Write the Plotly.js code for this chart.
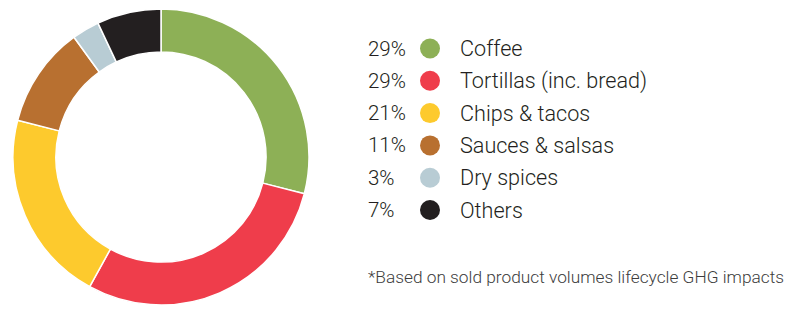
<!DOCTYPE html>
<html>
<head>
<meta charset="utf-8">
<script src="https://cdn.plot.ly/plotly-3.0.1.min.js"></script>
<style>html,body{margin:0;padding:0;background:#fff;}#chart{width:787px;height:309px;}</style>
</head>
<body>
<div id="chart"></div>
<script>
const categories = ["Coffee", "Tortillas (inc. bread)", "Chips & tacos", "Sauces & salsas", "Dry spices", "Others"];
const shares = [29, 29, 21, 11, 3, 7];
const percentLabels = ["29%", "29%", "21%", "11%", "3%", "7%"];
const colors = ["#8db056", "#ef3d4b", "#fdca2d", "#b87030", "#b8ccd4", "#231f20"];
const footnote = "*Based on sold product volumes lifecycle GHG impacts";

const W = 787, H = 309;
const rowTop = 48.5, rowStep = 32.3;
const rowY = categories.map((c, i) => rowTop + i * rowStep);
const textColor = "#231f20";

const pie = {
  type: "pie",
  values: shares,
  labels: categories,
  marker: {colors: colors, line: {color: "#ffffff", width: 1.5}},
  hole: 0.71,
  sort: false,
  direction: "clockwise",
  rotation: 0,
  textinfo: "none",
  hoverinfo: "label+percent",
  showlegend: false,
  domain: {x: [13 / W, 309 / W], y: [(H - 305) / H, (H - 9) / H]}
};

const dots = {
  type: "scatter",
  mode: "markers",
  x: categories.map(() => 430),
  y: rowY,
  marker: {color: colors, size: 20, line: {width: 0}},
  hoverinfo: "skip",
  showlegend: false,
  xaxis: "x",
  yaxis: "y"
};

const annotations = [];
categories.forEach((c, i) => {
  annotations.push({x: 366, y: rowY[i], xref: "x", yref: "y", text: percentLabels[i], showarrow: false,
    xanchor: "left", yanchor: "middle", font: {family: "Roboto", size: 20.5, weight: 300, color: textColor}});
  annotations.push({x: 458, y: rowY[i], xref: "x", yref: "y", text: c, showarrow: false,
    xanchor: "left", yanchor: "middle", font: {family: "Roboto", size: 21.6, weight: 300, color: textColor}});
});
annotations.push({x: 366, y: 277, xref: "x", yref: "y", text: footnote, showarrow: false,
  xanchor: "left", yanchor: "middle", font: {family: "Roboto", size: 17.3, weight: 300, color: "#3c3c3c"}});

const layout = {
  width: W, height: H,
  margin: {l: 0, r: 0, t: 0, b: 0, pad: 0},
  paper_bgcolor: "#ffffff", plot_bgcolor: "rgba(0,0,0,0)",
  xaxis: {range: [0, W], visible: false, fixedrange: true, domain: [0, 1]},
  yaxis: {range: [H, 0], visible: false, fixedrange: true, domain: [0, 1]},
  annotations: annotations,
  showlegend: false
};

Plotly.newPlot("chart", [pie, dots], layout, {displayModeBar: false, staticPlot: true});
</script>
</body>
</html>
